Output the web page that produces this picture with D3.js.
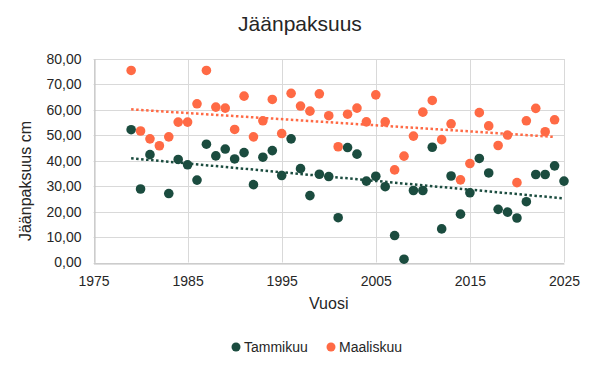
<!DOCTYPE html>
<html>
<head>
<meta charset="utf-8">
<script src="https://cdn.jsdelivr.net/npm/d3@7"></script>
<style>
  body { margin: 0; background: #fff; }
  text { font-family: "Liberation Sans", Arial, sans-serif; fill: #262626; }
</style>
</head>
<body>
<svg id="chart" width="600" height="373"></svg>
<script>
const tammiYears = [1979, 1980, 1981, 1983, 1984, 1985, 1986, 1987, 1988, 1989, 1990, 1991, 1992, 1993, 1994, 1995, 1996, 1997, 1998, 1999, 2000, 2001, 2002, 2003, 2004, 2005, 2006, 2007, 2008, 2009, 2010, 2011, 2012, 2013, 2014, 2015, 2016, 2017, 2018, 2019, 2020, 2021, 2022, 2023, 2024, 2025];
const tammiValues = [52.2, 28.9, 42.4, 27.1, 40.5, 38.4, 32.4, 46.5, 41.9, 44.6, 40.7, 43.2, 30.6, 41.4, 44.0, 34.2, 48.6, 36.9, 26.3, 34.7, 33.8, 17.6, 45.2, 42.6, 32.0, 33.9, 29.8, 10.6, 1.3, 28.3, 28.3, 45.3, 13.2, 34.0, 19.0, 27.4, 40.9, 35.2, 20.9, 19.8, 17.5, 23.9, 34.6, 34.6, 38.0, 32.0];
const maalisYears = [1979, 1980, 1981, 1982, 1983, 1984, 1985, 1986, 1987, 1988, 1989, 1990, 1991, 1992, 1993, 1994, 1995, 1996, 1997, 1998, 1999, 2000, 2001, 2002, 2003, 2004, 2005, 2006, 2007, 2008, 2009, 2010, 2011, 2012, 2013, 2014, 2015, 2016, 2017, 2018, 2019, 2020, 2021, 2022, 2023, 2024];
const maalisValues = [75.5, 51.7, 48.6, 45.9, 49.4, 55.2, 55.2, 62.4, 75.5, 61.1, 60.7, 52.3, 65.4, 49.4, 55.7, 64.1, 50.7, 66.5, 61.5, 59.5, 66.3, 57.7, 45.5, 58.3, 60.7, 55.3, 65.9, 55.3, 36.4, 41.8, 49.7, 59.1, 63.7, 48.3, 54.5, 32.5, 38.9, 58.9, 53.7, 46.0, 50.1, 31.4, 55.7, 60.6, 51.4, 56.1];
const seriesNames = ["Tammikuu", "Maaliskuu"];
const xTicks = [1975, 1985, 1995, 2005, 2015, 2025];
const yTicks = [0, 10, 20, 30, 40, 50, 60, 70, 80];

const colors = ["#1b4c3f", "#ff6a45"];
const gridColor = "#d9d9d9";

const chart = d3.select("#chart");

const x = d3.scaleLinear().domain([1975, 2025]).range([93.5, 564]);
const y = d3.scaleLinear().domain([0, 80]).range([262.5, 59]);

const fi = d3.formatLocale({ decimal: ",", thousands: " ", grouping: [3], currency: ["", "€"] });
const fmt = fi.format(".2f");

// gridlines
const grid = chart.append("g").attr("stroke", gridColor).attr("stroke-width", 1);
grid.selectAll(".h").data(yTicks).enter().append("line")
	.attr("x1", x(1975)).attr("x2", x(2025))
	.attr("y1", d => Math.round(y(d)) + 0.5).attr("y2", d => Math.round(y(d)) + 0.5);
grid.selectAll(".v").data(xTicks).enter().append("line")
	.attr("y1", y(0)).attr("y2", y(80))
	.attr("x1", d => Math.round(x(d)) + 0.5).attr("x2", d => Math.round(x(d)) + 0.5);

// axes
const xAxis = chart.append("g")
	.attr("transform", "translate(0," + (Math.round(y(0)) + 0.5) + ")")
	.call(d3.axisBottom(x).tickValues(xTicks).tickFormat(d3.format("d")).tickSize(0).tickPadding(13));
xAxis.select(".domain").attr("stroke", "#bfbfbf");
xAxis.selectAll("text").attr("font-size", 14).attr("fill", "#404040").attr("font-family", "Liberation Sans, Arial, sans-serif");

const yAxis = chart.append("g")
	.attr("transform", "translate(" + (Math.round(x(1975)) + 0.5) + ",0)")
	.call(d3.axisLeft(y).tickValues(yTicks).tickFormat(fmt).tickSize(0).tickPadding(13));
yAxis.select(".domain").attr("stroke", "#bfbfbf");
yAxis.selectAll("text").attr("font-size", 14).attr("fill", "#404040").attr("font-family", "Liberation Sans, Arial, sans-serif");

// trendlines (least squares)
function trend(xs, ys) {
	const n = xs.length;
	const mx = d3.mean(xs), my = d3.mean(ys);
	let sxy = 0, sxx = 0;
	for (let i = 0; i < n; i++) {
		sxy += (xs[i] - mx) * (ys[i] - my);
		sxx += (xs[i] - mx) * (xs[i] - mx);
	}
	const b = sxy / sxx;
	const a = my - b * mx;
	const x0 = d3.min(xs), x1 = d3.max(xs);
	return [[x0, a + b * x0], [x1, a + b * x1]];
}

const series = [
	{ name: seriesNames[0], xs: tammiYears, ys: tammiValues, color: colors[0] },
	{ name: seriesNames[1], xs: maalisYears, ys: maalisValues, color: colors[1] }
];

const line = d3.line().x(d => x(d[0])).y(d => y(d[1]));

series.forEach(s => {
	chart.append("path")
		.datum(trend(s.xs, s.ys))
		.attr("d", line)
		.attr("fill", "none")
		.attr("stroke", s.color)
		.attr("stroke-width", 2.5)
		.attr("stroke-dasharray", "2.5,2.5");
});

series.forEach(s => {
	chart.append("g").selectAll("circle")
		.data(s.xs.map((yr, i) => [yr, s.ys[i]]))
		.enter().append("circle")
		.attr("cx", d => x(d[0]))
		.attr("cy", d => y(d[1]))
		.attr("r", 4.8)
		.attr("fill", s.color);
});

// title
chart.append("text")
	.attr("x", 300).attr("y", 31)
	.attr("text-anchor", "middle")
	.attr("font-size", 21)
	.text("Jäänpaksuus");

// axis titles
chart.append("text")
	.attr("x", x(2000)).attr("y", 309)
	.attr("text-anchor", "middle")
	.attr("font-size", 16)
	.text("Vuosi");

chart.append("text")
	.attr("transform", "translate(31,181) rotate(-90)")
	.attr("text-anchor", "middle")
	.attr("font-size", 16)
	.text("Jäänpaksuus cm");

// legend
const legend = chart.append("g");
const legendX = [236, 331];
series.forEach((s, i) => {
	legend.append("circle")
		.attr("cx", legendX[i]).attr("cy", 347)
		.attr("r", 4.5).attr("fill", s.color);
	legend.append("text")
		.attr("x", legendX[i] + 8).attr("y", 352)
		.attr("font-size", 14)
		.text(s.name);
});
</script>
</body>
</html>
